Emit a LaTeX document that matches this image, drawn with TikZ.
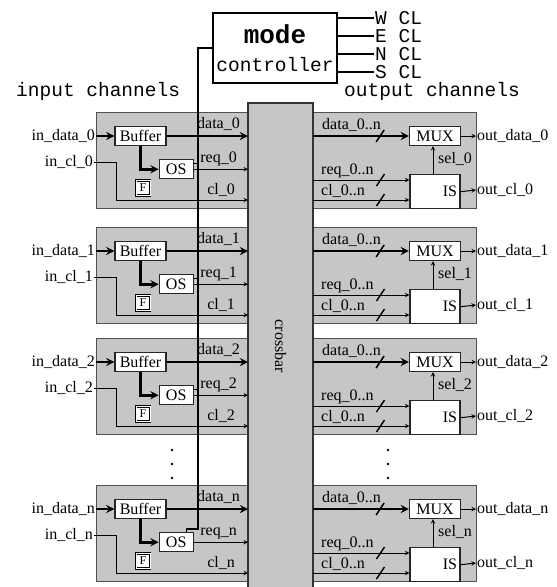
\documentclass[tikz,border=0pt]{standalone}
\usepackage{fontspec}
\setmainfont{Liberation Serif}
\setmonofont{Liberation Mono}
\usepackage{tikz}
\usetikzlibrary{arrows, positioning, decorations.markings}
\definecolor{panelgray}{RGB}{198,198,198}
\definecolor{edgegray}{RGB}{80,80,80}
\newcommand{\lblfont}{\fontsize{16}{18}\selectfont}
\newcommand{\ttlfont}{\ttfamily\fontsize{19.5}{22}\selectfont}
\tikzset{
    panel/.style={fill=panelgray, draw=edgegray, line width=1pt},
    crossbar/.style={rectangle, fill=panelgray, draw=black!80, line width=1.2pt, minimum width=487pt, minimum height=65pt, rotate=-90, font=\lblfont},
    ctrlbox/.style={rectangle, draw=black, line width=1.2pt, minimum width=124pt, minimum height=70pt, inner sep=0pt, align=center, font=\ttlfont},
    block/.style={rectangle, fill=white, draw=black!85, line width=1.2pt, minimum width=51pt, minimum height=19pt, inner sep=0pt, font=\lblfont},
    osblock/.style={block, minimum width=34pt},
    isblock/.style={block, minimum width=50pt, minimum height=34pt, text width=44pt, align=right},
    flag/.style={rectangle, fill=white, draw=black, line width=0.7pt, double=white, double distance=0.9pt, minimum width=14pt, minimum height=15pt, inner sep=0pt, font=\fontsize{12}{12}\selectfont},
    lbl/.style={font=\lblfont, inner sep=1pt},
    ttl/.style={font=\ttlfont, inner sep=1pt},
    bus/.style={line width=2.6pt, ->, >=stealth},
    wire/.style={line width=1pt, ->, >=stealth},
    cline/.style={line width=1.1pt},
    busmark/.style={postaction={decorate, decoration={markings, mark=at position 0.7 with {\draw[-, line width=1.5pt] (-4pt,-6pt) -- (4pt,6pt);}}}}
}

\begin{document}
\begin{tikzpicture}[x=1pt, y=1pt]
\useasboundingbox (0,0) rectangle (557,-587);

% Panels
\foreach \t in {112, 227, 338, 485} {
    \draw[panel] (96,-\t) rectangle (248,-\t-96);
    \draw[panel] (313,-\t) rectangle (476,-\t-96);
}
\node (xbar) [crossbar] at (280.5,-346.5) {crossbar};
\coordinate (xbl) at (248,0);
\coordinate (xbr) at (313,0);

% Mode controller
\node (ctrl) [ctrlbox] at (275,-48) {{\fontsize{26}{28}\selectfont\bfseries mode}\\[6pt]controller};
\node (wcl) [ttl, anchor=west] at (374,-18) {W CL};
\node (ecl) [ttl, anchor=west] at (374,-36) {E CL};
\node (ncl) [ttl, anchor=west] at (374,-54) {N CL};
\node (scl) [ttl, anchor=west] at (374,-72) {S CL};
\draw[cline] (ctrl.east |- wcl) -- (wcl.west);
\draw[cline] (ctrl.east |- ecl) -- (ecl.west);
\draw[cline] (ctrl.east |- ncl) -- (ncl.west);
\draw[cline] (ctrl.east |- scl) -- (scl.west);
\node (inch) [ttl, anchor=west] at (15,-91) {input channels};
\node (outch) [ttl, anchor=west] at (343,-91) {output channels};

% Channels
\foreach \i/\t in {0/112, 1/227, 2/338, n/485} {
    % input side
    \node (indata\i) [lbl, anchor=east] at (96,-\t-24) {in\_data\_\i};
    \node (incl\i) [lbl, anchor=east] at (94,-\t-50) {in\_cl\_\i};
    \node (buf\i) [block] at (140.5,-\t-24) {Buffer};
    \node (os\i) [osblock, below right=13pt and -8pt of buf\i] {OS};
    \node (flag\i) [flag] at (143,-\t-76) {F};
    \coordinate (cl\i) at (248,-\t-88);
    \draw[bus] (indata\i.east) -- (buf\i.west);
    \draw[bus] (buf\i.east) -- (buf\i.east -| xbl);
    \draw[bus] (buf\i.south) |- (os\i.west);
    \draw[wire] (os\i.east) -- (os\i.east -| xbl);
    \draw[wire] (incl\i.east) -- ++(22pt,0) |- (cl\i);
    \node[lbl, anchor=base east] at (241,-\t-16) {data\_\i};
    \node[lbl, anchor=base east] at (238,-\t-50) {req\_\i};
    \node[lbl, anchor=base east] at (236,-\t-82) {cl\_\i};
    % output side
    \node (mux\i) [block] at (435,-\t-24) {MUX};
    \node (is\i) [isblock, below=28pt of mux\i] {IS};
    \coordinate (rd\i) at (313,-\t-24);
    \coordinate (rr\i) at (313,-\t-68);
    \coordinate (rc\i) at (313,-\t-88);
    \draw[bus, busmark] (rd\i) -- (mux\i.west);
    \draw[wire, busmark] (rr\i) -- (rr\i -| is\i.west);
    \draw[wire, busmark] (rc\i) -- (rc\i -| is\i.west);
    \draw[wire] ([xshift=-2pt]is\i.north) -- ([xshift=-2pt]mux\i.south);
    \node[lbl, anchor=base west] at (321,-\t-17) {data\_0..n};
    \node[lbl, anchor=base west] at (320,-\t-62) {req\_0..n};
    \node[lbl, anchor=base west] at (320,-\t-83) {cl\_0..n};
    \node[lbl, anchor=west] at (437,-\t-47) {sel\_\i};
    \node (outd\i) [lbl, anchor=west] at (476,-\t-24) {out\_data\_\i};
    \node (outc\i) [lbl, anchor=west] at (476,-\t-78) {out\_cl\_\i};
    \draw[wire] (mux\i.east) -- (outd\i.west);
    \draw[wire] (is\i.east) -- (outc\i.west);
}

% Mode wire
\coordinate (wirebot) at (198,-529);
\draw[cline] (ctrl.west) -| (wirebot) -| ([xshift=10pt]osn.north);
\foreach \i in {0,1,2}
    \draw[cline] ([yshift=-4pt]os\i.north east) -- ([yshift=-4pt]os\i.north east -| wirebot);

% Dots
\foreach \y in {450,464,478} {
    \fill (172,-\y) circle (1.4pt);
    \fill (388,-\y) circle (1.4pt);
}

\end{tikzpicture}
\end{document}
